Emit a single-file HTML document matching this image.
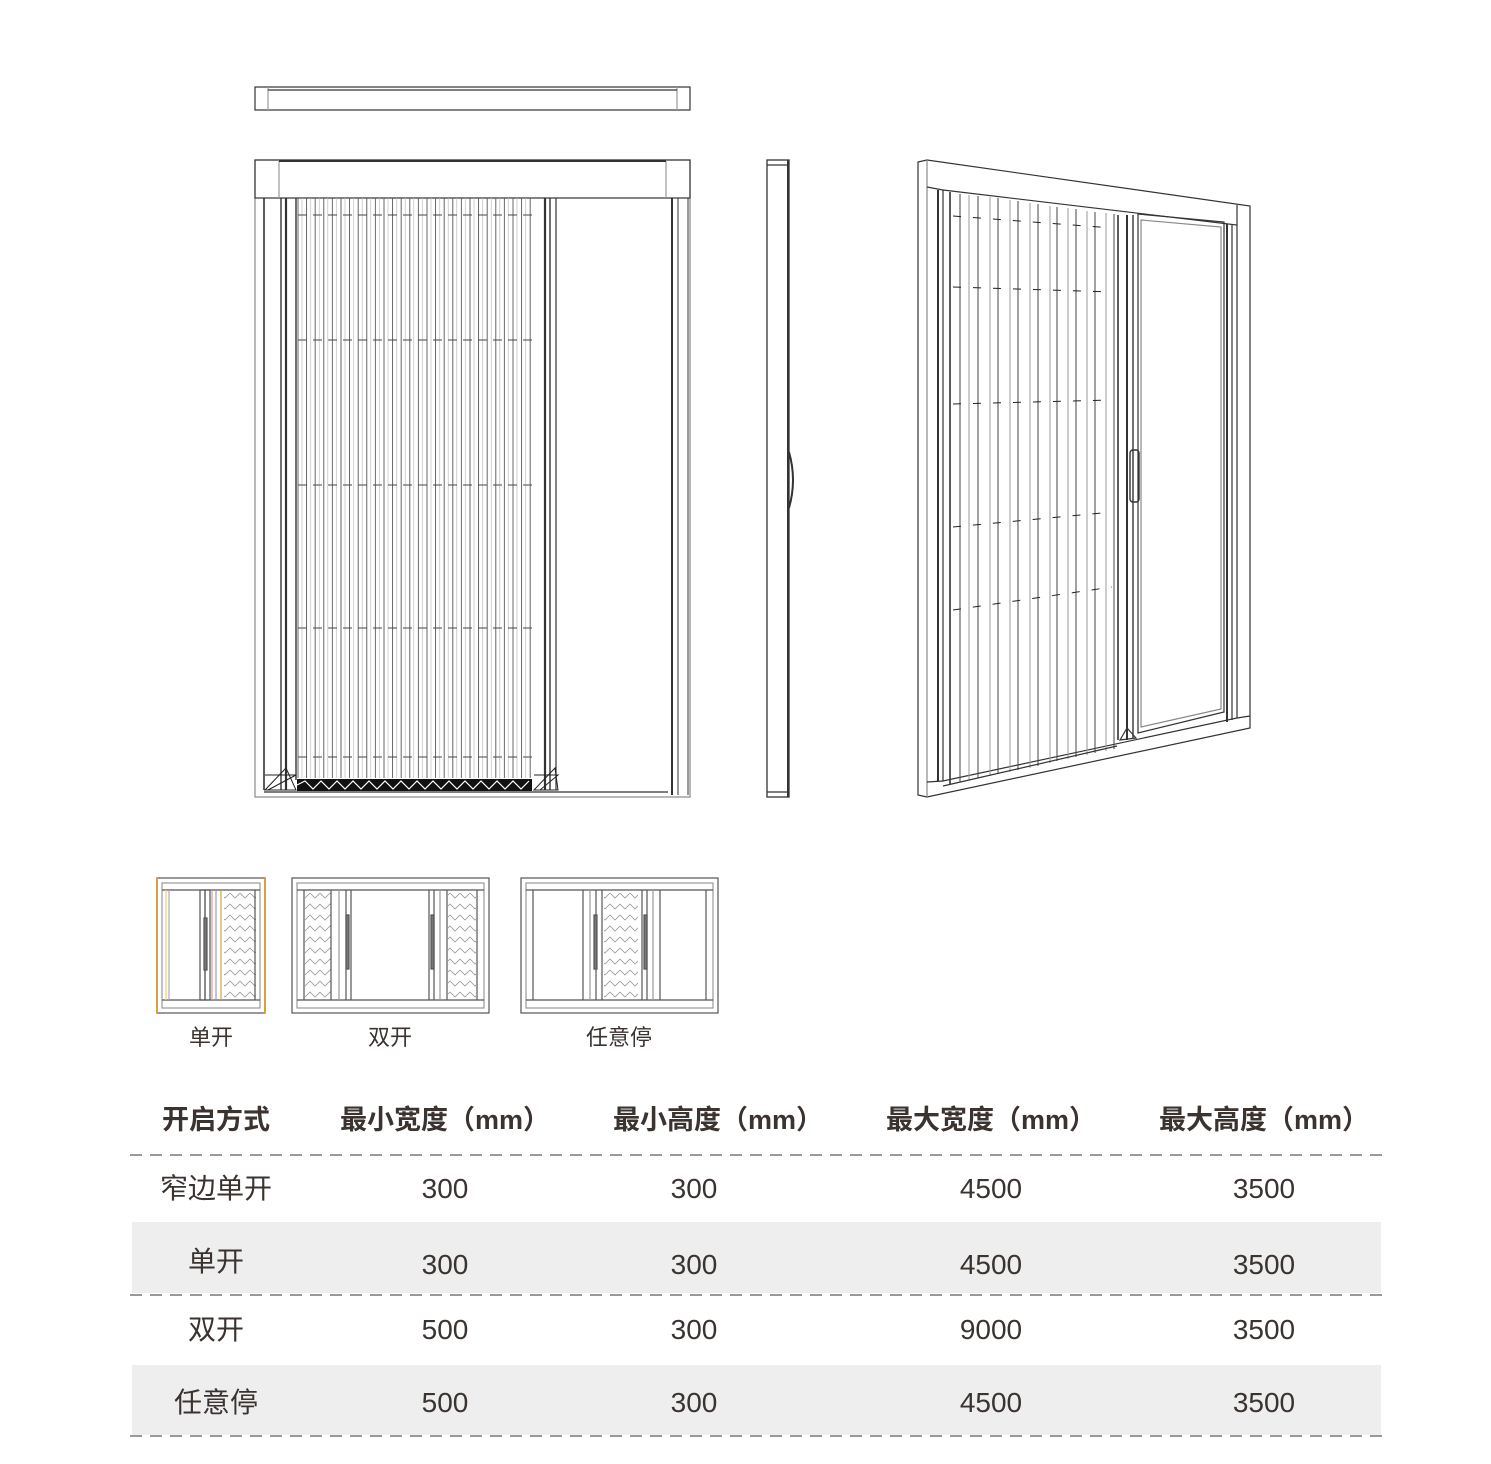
<!DOCTYPE html>
<html><head><meta charset="utf-8"><style>
html,body{margin:0;padding:0;background:#fff}
svg{display:block}
text{font-family:"Liberation Sans","Noto Sans CJK SC",sans-serif;fill:#3a3330}
</style></head><body>
<svg width="1491" height="1464" viewBox="0 0 1491 1464" xmlns="http://www.w3.org/2000/svg">
<defs>
<pattern id="pl" x="297" y="0" width="8.6" height="10" patternUnits="userSpaceOnUse">
<line x1="1" y1="0" x2="1" y2="10" stroke="#555" stroke-width="0.9"/>
<line x1="5" y1="0" x2="5" y2="10" stroke="#bbb" stroke-width="0.7"/>
</pattern>
<pattern id="zz" width="20" height="11" patternUnits="userSpaceOnUse">
<polyline points="0,2 5,7 10,2 15,7 20,2" fill="none" stroke="#999" stroke-width="0.8"/>
</pattern>
</defs>

<!-- top view -->
<g fill="none" stroke="#333" stroke-width="1.2">
<rect x="255" y="87" width="435" height="23"/>
<line x1="268" y1="87" x2="268" y2="110" stroke="#999"/>
<line x1="677" y1="87" x2="677" y2="110" stroke="#999"/>
<line x1="268" y1="90" x2="677" y2="90"/>
</g>

<!-- front view -->
<g fill="none" stroke="#333" stroke-width="1.2">
<rect x="255" y="160" width="435" height="637" stroke="#888"/>
<rect x="255" y="160" width="435" height="38"/>
<line x1="279" y1="160" x2="279" y2="198" stroke="#999"/>
<line x1="666" y1="160" x2="666" y2="198" stroke="#999"/>
<line x1="279" y1="161" x2="666" y2="161" stroke-width="2"/>
<line x1="264" y1="198" x2="264" y2="790" stroke-width="1.6"/>
<line x1="281" y1="198" x2="281" y2="790" stroke-width="1.4"/>
<line x1="286" y1="198" x2="286" y2="790" stroke-width="2.2"/>
<line x1="296" y1="198" x2="296" y2="780" stroke-width="1.4"/>
<rect x="297" y="198" width="236" height="580" fill="url(#pl)" stroke="none"/>
<g stroke="#444" stroke-dasharray="9,6" stroke-width="1">
<line x1="298" y1="215" x2="535" y2="215"/>
<line x1="298" y1="340" x2="535" y2="340"/>
<line x1="298" y1="485" x2="535" y2="485"/>
<line x1="298" y1="628" x2="535" y2="628"/>
<line x1="298" y1="757" x2="535" y2="757"/>
</g>
<line x1="545" y1="198" x2="545" y2="790" stroke-width="2.2"/>
<line x1="550" y1="198" x2="550" y2="790" stroke-width="1.4"/>
<line x1="556" y1="198" x2="556" y2="790"/>
<line x1="672" y1="198" x2="672" y2="795" stroke-width="2"/>
<line x1="678" y1="198" x2="678" y2="795" stroke-width="1"/>
<line x1="688" y1="198" x2="688" y2="795" stroke-width="1"/>
<line x1="264" y1="792" x2="668" y2="792"/>
</g>
<rect x="297" y="779" width="235" height="12" fill="#111"/>
<g stroke="#fff" stroke-width="1.2">
<polyline points="297,785 305,781 313,789 321,781 329,789 337,781 345,789 353,781 361,789 369,781 377,789 385,781 393,789 401,781 409,789 417,781 425,789 433,781 441,789 449,781 457,789 465,781 473,789 481,781 489,789 497,781 505,789 513,781 521,789 529,781" fill="none"/>
</g>
<g fill="none" stroke="#222" stroke-width="1">
<polygon points="265,790 286,768 296,790"/><polyline points="265,775 296,775 268,790"/>
<polygon points="534,790 555,768 558,790"/><polyline points="534,775 558,775 540,790"/>
</g>

<!-- side view -->
<g fill="none" stroke="#333" stroke-width="1.3">
<rect x="767" y="160" width="22" height="637"/>
<line x1="767" y1="165" x2="789" y2="165"/>
<line x1="767" y1="792" x2="789" y2="792"/>
<line x1="788" y1="160" x2="788" y2="797" stroke-width="2"/>
<path d="M789,452 Q797,480 789,508" stroke-width="2"/>
</g>

<!-- perspective view -->
<g fill="none" stroke="#333" stroke-width="1.2">
<polygon points="918,162 927,160 1250,206 1250,728 927,797 918,795"/>
<line x1="927" y1="160" x2="927" y2="797" stroke="#888"/>
<polyline points="943,190 1237,225 1237,718 943,781 943,190"/>
<line x1="927" y1="187" x2="943" y2="190"/>
<line x1="1237" y1="205" x2="1237" y2="225"/>
<line x1="1237" y1="718" x2="1250" y2="716"/>
<line x1="927" y1="782" x2="943" y2="781"/>
<line x1="938" y1="190" x2="938" y2="781" stroke-width="2"/>
<line x1="950" y1="192" x2="950" y2="784" stroke-width="1.6"/>
<line x1="1227" y1="224" x2="1227" y2="722" stroke-width="2"/>
<line x1="1232" y1="224" x2="1232" y2="720"/>
<g stroke="#444" stroke-width="1">
<line x1="960" y1="194" x2="960" y2="782"/>
<line x1="969" y1="195" x2="969" y2="780" stroke="#999"/>
<line x1="978" y1="196" x2="978" y2="778"/>
<line x1="990" y1="197" x2="990" y2="776" stroke="#999"/>
<line x1="998" y1="198" x2="998" y2="774"/>
<line x1="1010" y1="200" x2="1010" y2="772" stroke="#999"/>
<line x1="1018" y1="201" x2="1018" y2="770"/>
<line x1="1030" y1="203" x2="1030" y2="768" stroke="#999"/>
<line x1="1038" y1="204" x2="1038" y2="766"/>
<line x1="1050" y1="206" x2="1050" y2="763" stroke="#999"/>
<line x1="1057" y1="207" x2="1057" y2="761"/>
<line x1="1068" y1="208" x2="1068" y2="759" stroke="#999"/>
<line x1="1076" y1="209" x2="1076" y2="757"/>
<line x1="1087" y1="211" x2="1087" y2="755" stroke="#999"/>
<line x1="1095" y1="212" x2="1095" y2="753"/>
<line x1="1106" y1="213" x2="1106" y2="751" stroke="#999"/>
<line x1="1114" y1="214" x2="1114" y2="749"/>
</g>
<g stroke="#222" stroke-dasharray="8,12" stroke-width="1">
<line x1="953" y1="216" x2="1112" y2="228"/>
<line x1="953" y1="287" x2="1112" y2="292"/>
<line x1="953" y1="404" x2="1112" y2="400"/>
<line x1="953" y1="527" x2="1112" y2="512"/>
<line x1="953" y1="610" x2="1112" y2="587"/>
</g>
<line x1="1118" y1="215" x2="1118" y2="740" stroke-width="1.6"/>
<line x1="1127" y1="215" x2="1127" y2="740" stroke-width="2"/>
<line x1="1133" y1="215" x2="1133" y2="738" stroke-width="1.4"/>
<polygon points="1138,214 1224,222 1224,712 1138,733"/>
<polygon points="1141,220 1221,227 1221,709 1141,727" stroke="#888"/>
<rect x="1130" y="450" width="9" height="52" rx="3" stroke-width="1.4"/>
<polygon points="1120,740 1127,728 1136,738" />
<line x1="943" y1="786" x2="1117" y2="746"/>
</g>

<!-- small icons -->
<g fill="none" stroke="#555" stroke-width="1.2">
<rect x="157" y="878" width="108" height="135"/>
<rect x="162" y="883" width="98" height="125" stroke="#999"/>
<line x1="162" y1="890" x2="260" y2="890"/><line x1="162" y1="1000" x2="260" y2="1000"/>
<line x1="157" y1="878" x2="157" y2="1013" stroke="#d8a040" stroke-width="2"/>
<line x1="265" y1="878" x2="265" y2="1013" stroke="#d8a040" stroke-width="2"/>
<line x1="166" y1="890" x2="166" y2="1000" stroke="#f0d070"/>
<line x1="169" y1="890" x2="169" y2="1000" stroke="#aac"/>
<rect x="200" y="890" width="5" height="110"/>
<rect x="205" y="890" width="5" height="110"/>
<line x1="212" y1="890" x2="212" y2="1000" stroke="#d99"/>
<line x1="216" y1="890" x2="216" y2="1000" stroke="#99b"/>
<line x1="221" y1="890" x2="221" y2="1000" stroke="#d8a040"/>
<rect x="204" y="918" width="3" height="52" fill="#777"/>
<rect x="224" y="893" width="32" height="105" fill="url(#zz)" stroke="none"/>
<line x1="255" y1="890" x2="255" y2="1000"/>

<rect x="292" y="878" width="197" height="135"/>
<rect x="297" y="883" width="187" height="125" stroke="#999"/>
<line x1="297" y1="890" x2="484" y2="890"/><line x1="297" y1="1000" x2="484" y2="1000"/>
<line x1="304" y1="890" x2="304" y2="1000"/><line x1="477" y1="890" x2="477" y2="1000"/>
<rect x="305" y="893" width="26" height="105" fill="url(#zz)" stroke="none"/>
<rect x="448" y="893" width="28" height="105" fill="url(#zz)" stroke="none"/>
<line x1="331" y1="890" x2="331" y2="1000"/><line x1="339" y1="890" x2="339" y2="1000" stroke="#999"/>
<line x1="346" y1="890" x2="346" y2="1000"/><line x1="351" y1="890" x2="351" y2="1000"/>
<line x1="429" y1="890" x2="429" y2="1000"/><line x1="434" y1="890" x2="434" y2="1000"/>
<line x1="440" y1="890" x2="440" y2="1000" stroke="#999"/><line x1="447" y1="890" x2="447" y2="1000"/>
<rect x="346" y="915" width="3" height="54" fill="#777"/>
<rect x="431" y="915" width="3" height="54" fill="#777"/>

<rect x="521" y="878" width="197" height="135"/>
<rect x="526" y="883" width="187" height="125" stroke="#999"/>
<line x1="526" y1="890" x2="713" y2="890"/><line x1="526" y1="1000" x2="713" y2="1000"/>
<line x1="533" y1="890" x2="533" y2="1000"/><line x1="706" y1="890" x2="706" y2="1000"/>
<line x1="583" y1="890" x2="583" y2="1000"/><line x1="590" y1="890" x2="590" y2="1000" stroke="#999"/>
<line x1="596" y1="890" x2="596" y2="1000"/><line x1="602" y1="890" x2="602" y2="1000"/>
<rect x="604" y="893" width="34" height="105" fill="url(#zz)" stroke="none"/>
<line x1="642" y1="890" x2="642" y2="1000"/><line x1="647" y1="890" x2="647" y2="1000"/>
<line x1="653" y1="890" x2="653" y2="1000" stroke="#999"/><line x1="660" y1="890" x2="660" y2="1000"/>
<rect x="594" y="915" width="3" height="54" fill="#777"/>
<rect x="644" y="915" width="3" height="54" fill="#777"/>
</g>
<g font-size="22" text-anchor="middle">
<text x="211" y="1045">单开</text>
<text x="390" y="1045">双开</text>
<text x="619" y="1045">任意停</text>
</g>

<!-- table -->
<rect x="132" y="1222" width="1249" height="71" fill="#eeeeee"/>
<rect x="132" y="1365" width="1249" height="70" fill="#eeeeee"/>
<g stroke="#999" stroke-width="2" stroke-dasharray="12,8">
<line x1="130" y1="1155" x2="1382" y2="1155"/>
<line x1="130" y1="1295" x2="1382" y2="1295"/>
<line x1="130" y1="1436" x2="1382" y2="1436"/>
</g>
<g font-size="27" font-weight="bold" text-anchor="middle" fill="#222">
<text x="216" y="1129">开启方式</text>
<text x="445" y="1129">最小宽度（mm）</text>
<text x="718" y="1129">最小高度（mm）</text>
<text x="991" y="1129">最大宽度（mm）</text>
<text x="1264" y="1129">最大高度（mm）</text>
</g>
<g font-size="28" text-anchor="middle">
<text x="216" y="1198">窄边单开</text><text x="445" y="1198">300</text><text x="694" y="1198">300</text><text x="991" y="1198">4500</text><text x="1264" y="1198">3500</text>
<text x="216" y="1271">单开</text><text x="445" y="1274">300</text><text x="694" y="1274">300</text><text x="991" y="1274">4500</text><text x="1264" y="1274">3500</text>
<text x="216" y="1339">双开</text><text x="445" y="1339">500</text><text x="694" y="1339">300</text><text x="991" y="1339">9000</text><text x="1264" y="1339">3500</text>
<text x="216" y="1412">任意停</text><text x="445" y="1412">500</text><text x="694" y="1412">300</text><text x="991" y="1412">4500</text><text x="1264" y="1412">3500</text>
</g>
</svg>
</body></html>
